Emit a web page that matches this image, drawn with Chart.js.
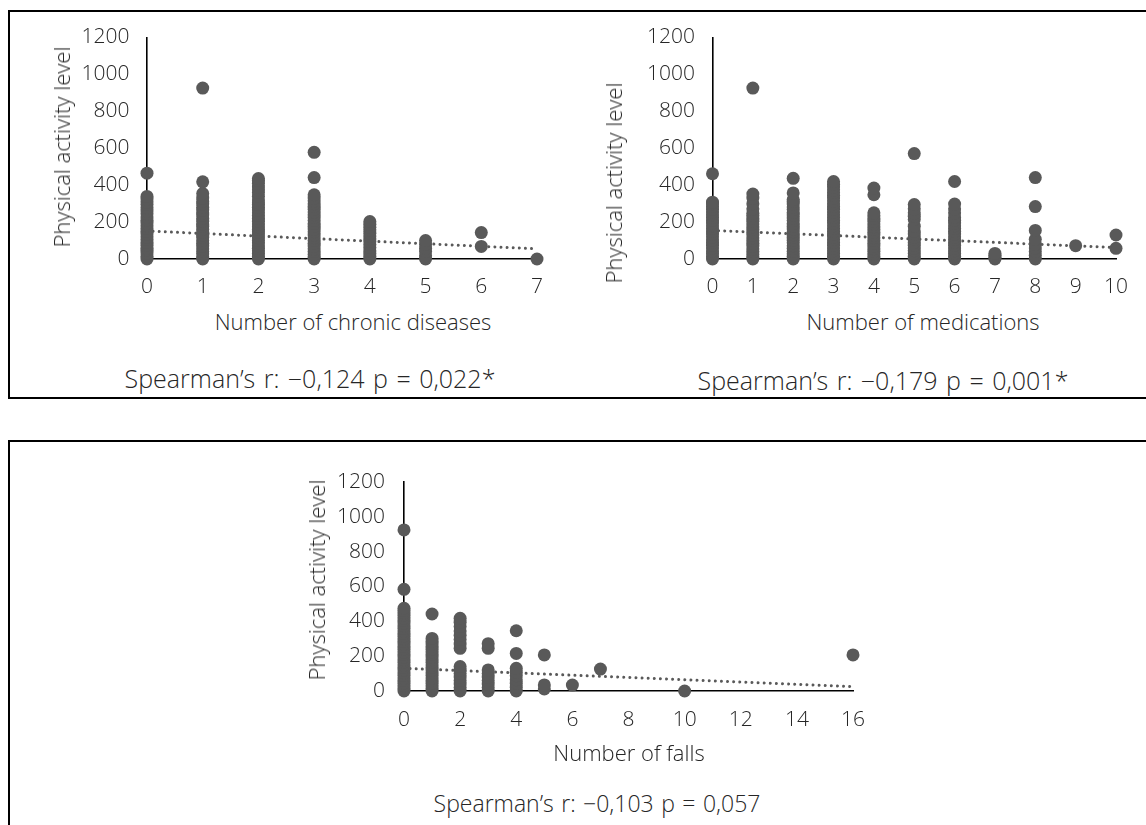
<!DOCTYPE html>
<html>
<head>
<meta charset="utf-8">
<script src="https://cdn.jsdelivr.net/npm/chart.js@4.4.1/dist/chart.umd.min.js"></script>
<style>
  html, body { margin:0; padding:0; background:#fff; }
  body { width:1146px; height:825px; overflow:hidden; position:relative; font-family:'Open Sans', sans-serif; font-weight:300; color:#262626; }
  .box { position:absolute; border:2px solid #000; border-right:none; box-sizing:border-box; }
  canvas { position:absolute; }
  .t { position:absolute; white-space:nowrap; font-size:22px; line-height:1; transform:translate(-50%,-50%); }
  .r { transform:translate(-50%,-50%) rotate(-90deg); }
  .s { font-size:25px; word-spacing:2px; }
  .s3 { font-size:23px; word-spacing:1.5px; }
</style>
</head>
<body>
<div class="box" style="left:8px;top:10px;width:1200px;height:389px;"></div>
<div class="box" style="left:8px;top:440px;width:1200px;height:500px;border-bottom:none;"></div>

<canvas id="c1" width="580" height="300" style="left:0px;top:0px;"></canvas>
<canvas id="c2" width="566" height="300" style="left:580px;top:0px;"></canvas>
<canvas id="c3" width="620" height="300" style="left:280px;top:440px;"></canvas>

<div class="t r" style="left:61px;top:147px;">Physical activity level</div>
<div class="t" style="left:353px;top:321px;">Number of chronic diseases</div>
<div class="t s" style="left:310px;top:378px;">Spearman’s r: −0,124 p = 0,022*</div>

<div class="t r" style="left:613px;top:183px;">Physical activity level</div>
<div class="t" style="left:923px;top:321px;">Number of medications</div>
<div class="t s" style="left:883px;top:380px;">Spearman’s r: −0,179 p = 0,001*</div>

<div class="t r" style="left:316px;top:580px;">Physical activity level</div>
<div class="t" style="left:629px;top:752px;">Number of falls</div>
<div class="t s3" style="left:597px;top:803px;">Spearman’s r: −0,103 p = 0,057</div>

<script>
// ---------- tick labels ----------
const yTicks = [0, 200, 400, 600, 800, 1000, 1200];
const chronicTicks = [0, 1, 2, 3, 4, 5, 6, 7];
const medicationTicks = [0, 1, 2, 3, 4, 5, 6, 7, 8, 9, 10];
const fallTicks = [0, 2, 4, 6, 8, 10, 12, 14, 16];

// ---------- panel 1: number of chronic diseases ----------
const chronicCounts = [0, 1, 2, 3, 4, 5, 6, 7];
const chronicActivity = [
  [0, 15, 32, 48, 60, 75, 90, 105, 120, 135, 150, 165, 180, 195, 210, 228, 245, 260, 278, 295, 310, 325, 339, 465],
  [0, 12, 28, 40, 55, 70, 85, 100, 118, 130, 145, 160, 178, 190, 205, 220, 238, 250, 265, 280, 298, 312, 330, 355, 418, 926],
  [0, 14, 30, 45, 58, 72, 88, 100, 115, 130, 146, 160, 175, 190, 205, 220, 235, 250, 265, 280, 295, 305, 320, 340, 360, 375, 390, 410, 425, 436],
  [0, 12, 25, 40, 55, 70, 85, 100, 115, 130, 148, 162, 178, 192, 208, 225, 240, 255, 270, 285, 300, 315, 330, 348, 441, 578],
  [0, 15, 30, 45, 62, 78, 95, 110, 125, 140, 158, 172, 188, 203],
  [0, 18, 40, 58, 80, 100],
  [68, 143],
  [0]
];
const chronicTrendX = [0, 7];
const chronicTrendY = [152, 55];

// ---------- panel 2: number of medications ----------
const medicationCounts = [0, 1, 2, 3, 4, 5, 6, 7, 8, 9, 10];
const medicationActivity = [
  [0, 14, 30, 44, 60, 75, 90, 104, 120, 135, 150, 165, 180, 195, 210, 225, 240, 255, 270, 285, 300, 308, 462],
  [0, 12, 25, 40, 55, 70, 85, 100, 115, 130, 145, 160, 175, 190, 205, 220, 235, 248, 272, 300, 330, 352, 926],
  [0, 15, 28, 42, 58, 72, 88, 102, 118, 132, 148, 162, 178, 192, 208, 222, 238, 252, 268, 282, 298, 312, 322, 358, 437],
  [0, 15, 30, 45, 60, 75, 90, 105, 120, 135, 150, 165, 180, 195, 210, 225, 240, 255, 270, 285, 300, 315, 330, 345, 360, 375, 390, 405, 420],
  [0, 14, 28, 42, 56, 70, 85, 100, 115, 130, 145, 160, 175, 190, 205, 220, 235, 250, 348, 384],
  [0, 15, 30, 45, 60, 75, 90, 105, 120, 135, 152, 178, 214, 232, 250, 272, 295, 571],
  [0, 15, 30, 45, 60, 75, 90, 105, 120, 135, 150, 165, 180, 195, 210, 225, 250, 272, 298, 420],
  [0, 10, 20, 30],
  [0, 20, 40, 60, 80, 107, 155, 284, 441],
  [72],
  [58, 130]
];
const medicationTrendX = [0, 10];
const medicationTrendY = [155, 62];

// ---------- panel 3: number of falls ----------
const fallCounts = [0, 1, 2, 3, 4, 5, 6, 7, 10, 16];
const fallActivity = [
  [0, 15, 30, 45, 60, 75, 90, 105, 120, 135, 150, 165, 180, 195, 210, 225, 240, 255, 270, 285, 300, 315, 330, 345, 360, 375, 390, 405, 420, 435, 450, 462, 475, 584, 925],
  [0, 15, 30, 45, 60, 75, 90, 105, 120, 135, 150, 165, 180, 195, 210, 225, 240, 255, 270, 285, 302, 442],
  [0, 20, 40, 60, 80, 100, 120, 140, 245, 270, 295, 320, 345, 370, 395, 417],
  [0, 20, 40, 60, 80, 100, 121, 245, 272],
  [0, 22, 45, 65, 88, 108, 130, 216, 346],
  [12, 35, 207],
  [34],
  [126],
  [0],
  [207]
];
const fallTrendX = [0, 16];
const fallTrendY = [130, 25];

// ---------- styling ----------
const DOT = '#595959';
const TEXT = '#262626';
Chart.defaults.font.family = "'Open Sans', sans-serif";
Chart.defaults.font.size = 21;
Chart.defaults.font.weight = '300';
Chart.defaults.color = TEXT;

function makeChart(id, cats, values, trendX, trendY, xTicks, g) {
  const pts = [];
  cats.forEach((c, i) => values[i].forEach(v => pts.push({ x: c, y: v })));
  const trend = trendX.map((x, i) => ({ x: x, y: trendY[i] }));
  return new Chart(document.getElementById(id), {
    type: 'scatter',
    data: {
      datasets: [
        { data: pts, backgroundColor: DOT, borderWidth: 0, pointRadius: 6.5, pointHoverRadius: 6.5, clip: false, order: 0 },
        { type: 'line', data: trend, borderColor: DOT, borderWidth: 3, borderDash: [0.01, 6.1],
          borderCapStyle: 'round', pointRadius: 0, fill: false, clip: false, order: 1 }
      ]
    },
    options: {
      responsive: false, animation: false, devicePixelRatio: 1, events: [],
      layout: { padding: { left: 0, top: g.top, right: g.right, bottom: 0 } },
      plugins: { legend: { display: false }, tooltip: { enabled: false }, title: { display: false } },
      scales: {
        x: {
          type: 'linear', min: xTicks[0], max: xTicks[xTicks.length - 1],
          afterBuildTicks: s => { s.ticks = xTicks.map(v => ({ value: v })); },
          afterFit: s => { s.height = g.xh; },
          grid: { display: false, drawTicks: false },
          border: { display: true, color: '#000', width: 1.6 },
          ticks: { padding: g.xpad, maxRotation: 0, autoSkip: false, color: TEXT, callback: v => String(v) }
        },
        y: {
          type: 'linear', min: 0, max: 1200,
          afterBuildTicks: s => { s.ticks = yTicks.map(v => ({ value: v })); },
          afterFit: s => { s.width = g.yw; },
          grid: { display: false, drawTicks: false },
          border: { display: true, color: '#000', width: 1.6 },
          ticks: { padding: g.ypad, color: TEXT, callback: v => String(v) }
        }
      }
    }
  });
}

makeChart('c1', chronicCounts, chronicActivity, chronicTrendX, chronicTrendY, chronicTicks,
  { top: 37.5, right: 43, xh: 41, xpad: 15.4, yw: 147, ypad: 17.5 });
makeChart('c2', medicationCounts, medicationActivity, medicationTrendX, medicationTrendY, medicationTicks,
  { top: 37.5, right: 30, xh: 41, xpad: 15.4, yw: 132.5, ypad: 17.5 });
makeChart('c3', fallCounts, fallActivity, fallTrendX, fallTrendY, fallTicks,
  { top: 42, right: 47, xh: 49, xpad: 16.4, yw: 124, ypad: 19 });
</script>
</body>
</html>
